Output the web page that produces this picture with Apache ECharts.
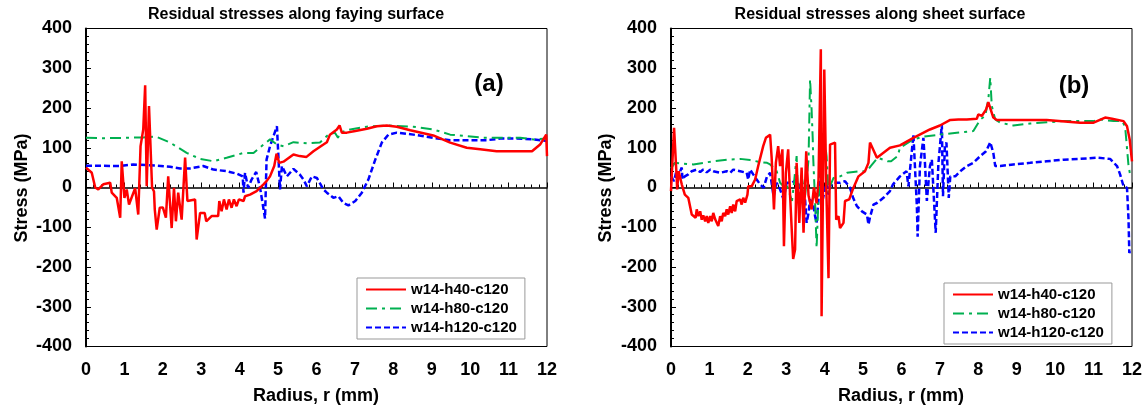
<!DOCTYPE html>
<html><head><meta charset="utf-8">
<script src="https://cdn.jsdelivr.net/npm/echarts@6/dist/echarts.min.js"></script>
<style>html,body{margin:0;padding:0;background:#fff}#c{width:1148px;height:410px}</style>
</head><body><div id="c"></div><script>
// ---------- DATA ----------
const seriesNames = ['w14-h40-c120', 'w14-h80-c120', 'w14-h120-c120'];
const xTickValues = [0,1,2,3,4,5,6,7,8,9,10,11,12];
const yTickValues = [-400,-300,-200,-100,0,100,200,300,400];
const chartTitles = ['Residual stresses along faying surface', 'Residual stresses along sheet surface'];
const panelLabels = ['(a)', '(b)'];
const xAxisTitle = 'Radius, r (mm)';
const yAxisTitle = 'Stress (MPa)';

// (a) faying surface  [radius mm, stress MPa]
const fayingH40 = [[0,50],[0.15,37],[0.24,0],[0.32,-5],[0.45,8],[0.63,12],[0.67,-13],[0.8,-26],[0.89,-76],[0.93,66],[1.0,-26],[1.06,-5],[1.12,-43],[1.2,-22],[1.28,-2],[1.36,-68],[1.42,104],[1.49,146],[1.54,257],[1.58,3],[1.64,205],[1.72,0],[1.77,-10],[1.79,-55],[1.84,-106],[1.92,-51],[2.0,-50],[2.08,-76],[2.14,28],[2.23,-102],[2.29,-1],[2.34,-85],[2.4,-13],[2.49,-81],[2.58,75],[2.64,-34],[2.84,-30],[2.88,-131],[2.97,-64],[3.09,-64],[3.13,-85],[3.27,-72],[3.44,-72],[3.47,-34],[3.53,-60],[3.59,-30],[3.66,-55],[3.72,-30],[3.79,-51],[3.85,-30],[3.92,-47],[3.98,-30],[4.1,-34],[4.14,-22],[4.27,-18],[4.44,-9],[4.62,8],[4.7,16],[4.79,28],[4.9,54],[4.96,85],[5.03,62],[5.14,65],[5.4,83],[5.56,79],[5.74,77],[5.92,91],[6.18,108],[6.27,114],[6.35,133],[6.53,146],[6.6,156],[6.66,138],[6.79,138],[7.01,142],[7.31,148],[7.57,154],[7.83,156],[8.09,153],[8.44,144],[9.04,131],[9.48,113],[9.91,100],[10.26,96],[10.69,91],[11.22,91],[11.61,91],[11.82,108],[11.98,133],[12.0,79]];
const fayingH80 = [[0,125],[0.5,124],[1.0,125],[1.5,126],[1.82,128],[2.19,113],[2.62,87],[2.97,72],[3.32,66],[3.66,75],[4.1,87],[4.36,87],[4.62,108],[4.79,121],[4.97,108],[5.14,104],[5.4,114],[5.75,111],[6.09,113],[6.31,133],[6.48,138],[6.56,125],[6.61,138],[6.88,146],[7.31,153],[7.83,156],[8.52,153],[9.04,146],[9.48,133],[9.91,129],[10.35,125],[10.78,125],[11.3,125],[11.65,121],[12,123]];
const fayingH120 = [[0,55],[0.88,54],[1.23,58],[1.84,55],[2.19,52],[2.45,48],[2.71,48],[3.05,54],[3.32,45],[3.66,41],[3.92,35],[4.08,28],[4.1,-13],[4.14,37],[4.22,-1],[4.31,20],[4.43,39],[4.53,0],[4.66,-78],[4.7,70],[4.79,104],[4.97,154],[5.05,-5],[5.1,54],[5.23,28],[5.4,47],[5.57,32],[5.66,20],[5.75,3],[5.88,28],[6.01,24],[6.18,-5],[6.27,-13],[6.44,-26],[6.57,-22],[6.7,-39],[6.83,-45],[7.01,-34],[7.18,-13],[7.35,20],[7.53,70],[7.7,113],[7.87,133],[8.09,138],[8.52,133],[9.04,125],[9.48,119],[9.91,119],[10.43,119],[10.78,123],[11.22,123],[11.65,121],[12,117]];

// (b) sheet surface  [radius mm, stress MPa]
const sheetH40 = [[0,-9],[0.08,150],[0.15,20],[0.16,-5],[0.2,41],[0.28,8],[0.36,-18],[0.45,-26],[0.54,-68],[0.58,-72],[0.64,-76],[0.67,-55],[0.71,-72],[0.76,-60],[0.8,-81],[0.84,-70],[0.89,-85],[0.93,-72],[0.97,-89],[1.02,-72],[1.06,-85],[1.1,-64],[1.15,-80],[1.19,-80],[1.23,-97],[1.28,-72],[1.32,-85],[1.36,-64],[1.41,-72],[1.45,-55],[1.49,-68],[1.54,-47],[1.58,-64],[1.62,-43],[1.67,-60],[1.71,-34],[1.8,-30],[1.84,-43],[1.88,-26],[1.93,-38],[1.99,-18],[2.01,3],[2.1,3],[2.19,20],[2.27,54],[2.4,104],[2.47,125],[2.58,133],[2.62,75],[2.68,-55],[2.73,62],[2.79,104],[2.84,54],[2.9,96],[2.94,-148],[2.99,37],[3.05,96],[3.1,-20],[3.18,-180],[3.23,-156],[3.27,62],[3.34,-89],[3.4,50],[3.45,-114],[3.52,91],[3.58,-20],[3.66,-55],[3.72,0],[3.79,-40],[3.84,20],[3.9,348],[3.92,-324],[3.99,297],[4.04,10],[4.1,-228],[4.14,108],[4.27,113],[4.3,-81],[4.36,-72],[4.4,-102],[4.49,-89],[4.53,-34],[4.64,-30],[4.73,-5],[4.88,28],[5.05,41],[5.14,62],[5.18,113],[5.36,75],[5.7,100],[5.96,106],[6.31,125],[6.74,146],[7.0,156],[7.27,170],[7.48,171],[7.53,176],[7.7,171],[7.96,173],[8.0,184],[8.09,180],[8.2,196],[8.26,215],[8.39,176],[8.48,170],[8.91,170],[9.78,170],[10.65,163],[11.0,163],[11.3,176],[11.48,173],[11.78,167],[11.87,154],[11.94,121],[12.0,66]];
const sheetH80 = [[0,48],[0.1,62],[0.32,60],[0.58,58],[0.84,62],[1.1,66],[1.45,70],[1.8,72],[2.06,69],[2.32,64],[2.5,62],[2.58,58],[2.67,50],[2.75,41],[2.84,12],[2.93,3],[3.0,10],[3.15,-34],[3.2,10],[3.27,79],[3.31,-34],[3.4,28],[3.49,-22],[3.58,70],[3.62,272],[3.66,196],[3.69,121],[3.7,79],[3.75,-34],[3.79,-152],[3.84,-22],[3.92,20],[3.99,125],[4.05,79],[4.1,-13],[4.14,3],[4.23,24],[4.4,28],[4.58,37],[4.93,41],[5.1,41],[5.2,54],[5.38,75],[5.64,66],[5.73,66],[5.9,79],[5.96,100],[6.31,121],[6.57,128],[7.0,133],[7.44,138],[7.87,142],[8.05,171],[8.18,180],[8.26,222],[8.31,276],[8.35,205],[8.44,171],[8.57,163],[8.91,156],[9.35,161],[9.78,164],[10.22,167],[10.65,167],[11.0,167],[11.18,171],[11.52,167],[11.74,167],[11.82,154],[11.91,54],[11.95,33],[12,37]];
const sheetH120 = [[0,28],[0.08,16],[0.13,37],[0.16,24],[0.28,50],[0.3,20],[0.36,28],[0.45,33],[0.54,41],[0.67,45],[0.76,39],[0.84,45],[0.93,38],[1.02,45],[1.1,41],[1.28,37],[1.45,41],[1.54,37],[1.62,45],[1.8,41],[1.97,37],[2.01,20],[2.06,45],[2.14,33],[2.23,20],[2.32,8],[2.41,-1],[2.5,28],[2.58,37],[2.67,-22],[2.75,12],[2.84,-5],[2.93,-30],[3.01,12],[3.15,12],[3.27,20],[3.33,5],[3.4,-18],[3.49,-30],[3.53,-89],[3.58,-64],[3.62,-30],[3.71,-47],[3.75,-72],[3.79,-89],[3.84,-30],[3.87,28],[3.88,146],[3.91,87],[3.92,28],[3.95,-30],[4.05,12],[4.1,-18],[4.14,3],[4.23,12],[4.4,12],[4.53,16],[4.66,-1],[4.74,-26],[4.84,-47],[4.97,-60],[5.1,-68],[5.14,-93],[5.18,-75],[5.27,-43],[5.36,-39],[5.53,-26],[5.7,-9],[5.78,8],[5.96,28],[6.13,41],[6.18,3],[6.31,133],[6.4,-47],[6.42,-124],[6.48,54],[6.57,125],[6.61,62],[6.66,-34],[6.74,54],[6.79,70],[6.89,-114],[6.96,60],[7.05,158],[7.08,-22],[7.13,104],[7.17,113],[7.23,-26],[7.27,28],[7.4,28],[7.53,41],[7.7,54],[7.87,62],[8.05,79],[8.2,91],[8.31,114],[8.39,87],[8.44,54],[8.57,54],[8.91,58],[9.35,62],[9.78,66],[10.22,70],[10.65,72],[11.09,75],[11.43,72],[11.61,54],[11.69,33],[11.78,3],[11.87,-1],[11.91,-81],[11.93,-165],[11.96,-156]];

// ---------- CHART ----------
const FONT = '"Liberation Sans", Arial, sans-serif';
const chart = echarts.init(document.getElementById('c'), null, {renderer: 'canvas'});
const grids = [
  {left: 86, top: 28.5, width: 461, height: 318},
  {left: 671, top: 28.5, width: 461, height: 318}
];
const styles = [
  {color: '#ff0000', type: 'solid', width: 2.5},
  {color: '#00b050', type: [11, 5, 3, 5], width: 2},
  {color: '#0000ff', type: [6, 3], width: 2.5}
];
function mkSeries(name, data, gi, si) {
  return {
    name: name, type: 'line', data: data,
    xAxisIndex: gi * 2, yAxisIndex: gi,
    symbol: 'emptyCircle', symbolSize: 0, showSymbol: false, animation: false,
    lineStyle: {color: styles[si].color, type: styles[si].type, width: styles[si].width},
    itemStyle: {color: styles[si].color},
    z: 5 - si
  };
}
const xAxes = [];
const yAxes = [];
[0, 1].forEach(gi => {
  xAxes.push({
    type: 'value', gridIndex: gi, min: xTickValues[0], max: xTickValues[xTickValues.length - 1], interval: 1,
    position: 'bottom',
    axisLine: {show: false, onZero: false},
    axisTick: {show: false}, splitLine: {show: false},
    axisLabel: {show: true, margin: 15, color: '#000', fontFamily: FONT, fontWeight: 'bold', fontSize: 18}
  });
  xAxes.push({
    type: 'value', gridIndex: gi, min: xTickValues[0], max: xTickValues[xTickValues.length - 1], interval: 1,
    position: 'bottom',
    axisLine: {show: true, onZero: true, lineStyle: {color: '#000', width: 1.5}},
    axisTick: {show: true, inside: true, length: 5, lineStyle: {color: '#000', width: 1}},
    minorTick: {show: true, splitNumber: 5, length: 3, lineStyle: {color: '#000', width: 1}},
    splitLine: {show: false},
    axisLabel: {show: false}
  });
  yAxes.push({
    type: 'value', gridIndex: gi, min: yTickValues[0], max: yTickValues[yTickValues.length - 1], interval: 100,
    axisLine: {show: true, onZero: false, lineStyle: {color: '#000', width: 2}},
    axisTick: {show: true, inside: true, length: 5, lineStyle: {color: '#000', width: 1}},
    minorTick: {show: true, splitNumber: 5, length: 3, lineStyle: {color: '#000', width: 1}},
    splitLine: {show: false},
    axisLabel: {margin: 14, color: '#000', fontFamily: FONT, fontWeight: 'bold', fontSize: 18}
  });
});
const legendCommon = {
  orient: 'vertical', data: seriesNames, itemWidth: 40, itemHeight: 14, itemGap: 4,
  padding: [4, 8, 4, 8], borderColor: '#999', borderWidth: 1, backgroundColor: '#fff',
  itemStyle: {opacity: 0, borderWidth: 0},
  textStyle: {fontFamily: FONT, fontWeight: 'bold', fontSize: 15, color: '#000'},
  selectedMode: false
};
const textEl = (t, x, y, size, rot) => ({
  type: 'text', x: x, y: y, rotation: rot || 0,
  style: {text: t, font: 'bold ' + size + 'px ' + FONT, fill: '#000', textAlign: 'center', textVerticalAlign: 'middle'}
});
chart.setOption({
  animation: false,
  backgroundColor: '#fff',
  grid: grids.map(g => Object.assign({show: true, borderColor: '#000', borderWidth: 1, backgroundColor: 'transparent'}, g)),
  xAxis: xAxes,
  yAxis: yAxes,
  legend: [
    Object.assign({left: 357, top: 278}, legendCommon),
    Object.assign({left: 944, top: 283}, legendCommon)
  ],
  graphic: [
    textEl(chartTitles[0], 296, 15, 16),
    textEl(chartTitles[1], 880, 15, 16),
    textEl(panelLabels[0], 489, 84, 24),
    textEl(panelLabels[1], 1074, 86, 24),
    textEl(xAxisTitle, 316, 396, 18),
    textEl(xAxisTitle, 901, 396, 18),
    textEl(yAxisTitle, 22, 188, 18, Math.PI / 2),
    textEl(yAxisTitle, 606, 188, 18, Math.PI / 2)
  ],
  series: [
    mkSeries(seriesNames[0], fayingH40, 0, 0),
    mkSeries(seriesNames[1], fayingH80, 0, 1),
    mkSeries(seriesNames[2], fayingH120, 0, 2),
    mkSeries(seriesNames[0], sheetH40, 1, 0),
    mkSeries(seriesNames[1], sheetH80, 1, 1),
    mkSeries(seriesNames[2], sheetH120, 1, 2)
  ]
});
</script></body></html>
